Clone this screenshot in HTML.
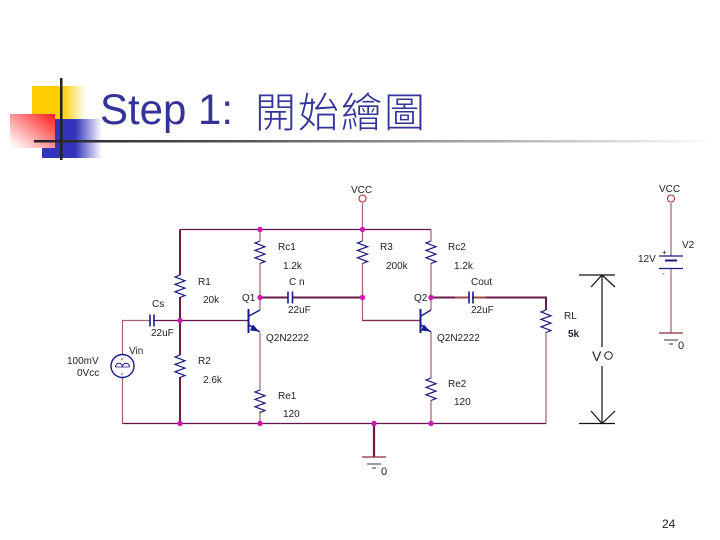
<!DOCTYPE html>
<html><head><meta charset="utf-8"><style>
html,body{margin:0;padding:0;background:#fff}
svg{display:block}
text{font-family:"Liberation Sans","Noto Sans CJK TC",sans-serif}
.l{font-size:10px;fill:#222}
</style></head><body>
<svg width="720" height="540" viewBox="0 0 720 540" xmlns="http://www.w3.org/2000/svg">
<defs>
<linearGradient id="y" x1="0" x2="1" y1="0" y2="0"><stop offset="0" stop-color="#ffcc00"/><stop offset=".55" stop-color="#ffcc00"/><stop offset="1" stop-color="#fff"/></linearGradient>
<linearGradient id="b" x1="0" x2="1" y1="0" y2="0"><stop offset="0" stop-color="#3333bb"/><stop offset=".55" stop-color="#3333bb"/><stop offset="1" stop-color="#fff"/></linearGradient>
<linearGradient id="r" x1="1" x2="0" y1="0" y2="1"><stop offset="0" stop-color="#ff1a1a"/><stop offset=".85" stop-color="#ffe8e8"/><stop offset="1" stop-color="#fff"/></linearGradient>
<linearGradient id="h" x1="0" x2="1" y1="0" y2="0"><stop offset="0" stop-color="#222"/><stop offset=".3" stop-color="#555"/><stop offset="1" stop-color="#fff"/></linearGradient>
<path id="res" d="M0 0l-5 2 10 3.700-10 3.700 10 3.700-10 3.700 10 3.700-5 2" fill="none" stroke="#1a1a80" stroke-width="1.200"/>
<g id="gnd" stroke="#8a2a3a" fill="none"><path d="M-12 0h24" stroke-width="1.300"/><path d="M-7 7h14" stroke="#333" stroke-width="1"/><path d="M-2 11h4" stroke="#333" stroke-width="1"/></g>
</defs>

<!-- Logo -->
<rect x="32" y="86" width="54" height="46" fill="url(#y)"/>
<rect x="42" y="119" width="60" height="39" fill="url(#b)"/>
<rect x="10" y="114" width="45" height="34" fill="url(#r)"/>
<rect x="34" y="140" width="686" height="2.500" fill="url(#h)"/>
<rect x="60" y="78" width="2.500" height="82" fill="#222"/>

<!-- Title -->
<text x="100" y="124" font-size="43" fill="#333399" textLength="133" lengthAdjust="spacingAndGlyphs">Step 1:</text>
<text x="255" y="127" font-size="41" fill="#333399" letter-spacing="2" style="font-family:'Noto Sans CJK TC',sans-serif;font-weight:300">開始繪圖</text>

<!-- Wires light -->
<g fill="none" stroke="#a0607a" stroke-width="1.200">
<path d="M260 229.500V241M260 263V297.500M260 297.500V310"/>
<path d="M260 333V390M260 411V423"/>
<path d="M362.500 203V241M362.500 263V320.500H420"/>
<path d="M431 229.500V241M431 263V310M431 332V378M431 400V423"/>
<path d="M546 332V423.500"/>
<path d="M122.500 354V320.500H150M122.500 378V423.500"/>
<path d="M671 203V256M671 268V333"/>
</g>
<!-- Wires dark -->
<g fill="none" stroke="#5c1a48" stroke-width="1.300">
<path d="M180 229.500H431"/>
<path d="M122.500 423.500H546"/>
<path d="M153 320.500H248"/>
<path d="M362.500 320.500H420" stroke="#7a3050"/>
</g>
<g fill="none" stroke="#6a1a48" stroke-width="2">
<path d="M180 229.500V275M180 297V355M180 377V423.500"/>
<path d="M260 297.500H288M292 297.500H362.500"/>
<path d="M431 297.500H469M472 297.500H546V310"/>
<path d="M374 423.500V457" stroke-width="2.200"/>
</g>
<path d="M455 297.500H468M473 297.500H486" stroke="#b85a4a" stroke-width="2" opacity=".7"/>

<!-- Resistors -->
<use href="#res" x="260" y="241"/>
<use href="#res" x="362.500" y="241"/>
<use href="#res" x="431" y="241"/>
<use href="#res" x="180" y="275"/>
<use href="#res" x="180" y="355"/>
<use href="#res" x="260" y="390"/>
<use href="#res" x="431" y="378"/>
<use href="#res" x="546" y="310"/>

<!-- Capacitors -->
<g stroke="#1a1a90" stroke-width="1.600" fill="none">
<path d="M150 314.500v12M154 314.500v12"/>
<path d="M288 291.500v12M292.500 291.500v12"/>
<path d="M469 291.500v12M473 291.500v12"/>
</g>

<!-- Transistors -->
<g fill="none" stroke="#1a1a90" stroke-width="1.400">
<path d="M248.500 309v24" stroke-width="2"/>
<path d="M249 316l11-6M249 325l11 7"/>
<path d="M420.500 309v24" stroke-width="2"/>
<path d="M421 316l10-6M421 325l10 7"/>
</g>
<path d="M259 331.500l-9-1 3-6z" fill="#1a1a90"/>
<path d="M430 331.500l-9-1 3-6z" fill="#1a1a90"/>

<!-- Vin source -->
<circle cx="122.500" cy="366" r="11.500" fill="#fff" stroke="#1a1a90" stroke-width="1.400"/>
<path d="M115.500 367c0-5 7-5 7 0M122.500 367c0-5 7-5 7 0" fill="none" stroke="#1a1a90"/>
<path d="M115.500 367h14M122 358v2M122 373v2" stroke="#1a1a90" stroke-width=".8"/>

<!-- VCC circles -->
<circle cx="362.500" cy="198.500" r="3.500" fill="#fff" stroke="#b03030" stroke-width="1.100"/>
<circle cx="671" cy="198.500" r="3.500" fill="#fff" stroke="#b03030" stroke-width="1.100"/>

<!-- Battery -->
<g stroke="#1a1a80" fill="none">
<path d="M659 256h24" stroke-width="1.300"/>
<path d="M665 260.500h12" stroke-width="2"/>
<path d="M659 268.500h24" stroke-width="1.300"/>
</g>

<!-- Grounds -->
<use href="#gnd" x="374" y="457"/>
<use href="#gnd" x="671" y="333"/>

<!-- Nodes -->
<g fill="#d018b0">
<circle cx="260" cy="229.500" r="2.700"/>
<circle cx="362.500" cy="229.500" r="2.700"/>
<circle cx="180" cy="320.500" r="2.700"/>
<circle cx="260" cy="297.500" r="2.700"/>
<circle cx="362.500" cy="297.500" r="2.700"/>
<circle cx="431" cy="297.500" r="2.700"/>
<circle cx="180" cy="423.500" r="2.700"/>
<circle cx="260" cy="423.500" r="2.700"/>
<circle cx="374" cy="423.500" r="2.700"/>
<circle cx="431" cy="423.500" r="2.700"/>
</g>

<!-- Vo arrow -->
<g fill="none" stroke="#111" stroke-width="1.200">
<path d="M579 275h36M579 423.500h36"/>
<path d="M602 275v72M602 366v57.500"/>
<path d="M591 287l11-12 13 12M591 411l11 12.500 13-12.500"/>
</g>
<text x="592" y="361" font-size="14" fill="#222">V</text>
<circle cx="608.500" cy="355.500" r="3.800" fill="none" stroke="#222" stroke-width="1"/>

<!-- Labels -->
<g class="l">
<text class="l" x="351" y="193">VCC</text>
<text class="l" x="659" y="192">VCC</text>
<text class="l" x="682" y="248">V2</text>
<text class="l" x="638" y="262">12V</text>
<text class="l" x="662" y="255" style="font-size:8px">+</text>
<text class="l" x="662" y="276" style="font-size:8px">-</text>
<text class="l" x="678" y="349" style="font-size:11px">0</text>
<text class="l" x="381" y="475" style="font-size:11px">0</text>
<text class="l" x="278" y="250">Rc1</text>
<text class="l" x="283" y="269">1.2k</text>
<text class="l" x="380" y="250">R3</text>
<text class="l" x="386" y="269">200k</text>
<text class="l" x="448" y="250">Rc2</text>
<text class="l" x="454" y="269">1.2k</text>
<text class="l" x="198" y="285">R1</text>
<text class="l" x="203" y="303">20k</text>
<text class="l" x="242" y="301">Q1</text>
<text class="l" x="414" y="301">Q2</text>
<text class="l" x="289" y="285">C n</text>
<text class="l" x="471" y="285">Cout</text>
<text class="l" x="288" y="313">22uF</text>
<text class="l" x="471" y="313">22uF</text>
<text class="l" x="152" y="307">Cs</text>
<text class="l" x="151" y="336">22uF</text>
<text class="l" x="266" y="341">Q2N2222</text>
<text class="l" x="437" y="341">Q2N2222</text>
<text class="l" x="198" y="364">R2</text>
<text class="l" x="203" y="383">2.6k</text>
<text class="l" x="129" y="354">Vin</text>
<text class="l" x="67" y="364">100mV</text>
<text class="l" x="77" y="376">0Vcc</text>
<text class="l" x="278" y="399">Re1</text>
<text class="l" x="283" y="417">120</text>
<text class="l" x="448" y="387">Re2</text>
<text class="l" x="454" y="405">120</text>
<text class="l" x="564" y="319">RL</text>
<text class="l" x="568" y="337" style="font-weight:bold;fill:#223">5k</text>
</g>

<text x="662" y="528" font-size="12" fill="#222">24</text>
</svg>
</body></html>
